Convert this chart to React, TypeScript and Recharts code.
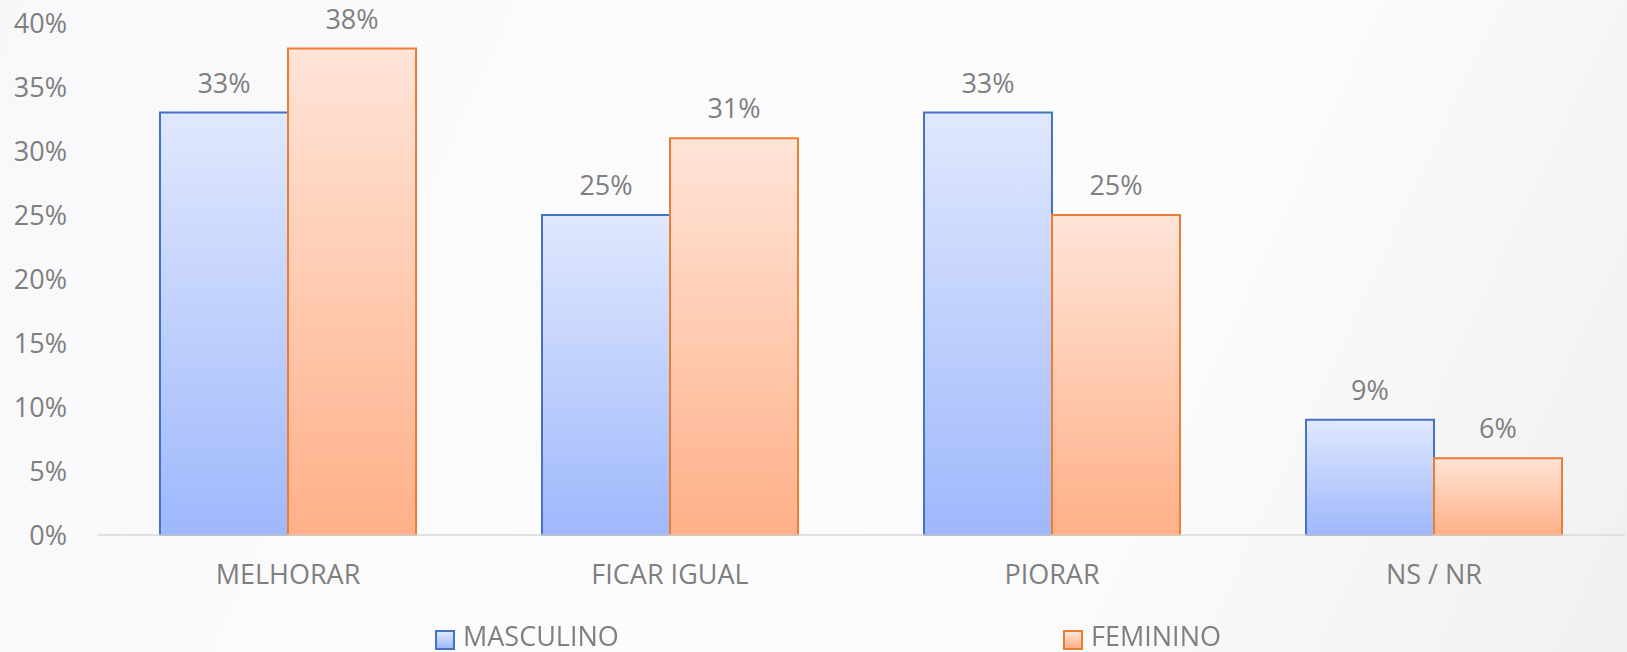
import React from 'react';
import { BarChart, Bar, XAxis, YAxis, Legend, LabelList } from 'recharts';

// Categories and values (percent)
const categories = ['MELHORAR', 'FICAR IGUAL', 'PIORAR', 'NS / NR'];
const masculino = [33, 25, 33, 9];
const feminino = [38, 31, 25, 6];
const yTicks = [0, 5, 10, 15, 20, 25, 30, 35, 40];

const data = categories.map((name, i) => ({
  name,
  MASCULINO: masculino[i],
  FEMININO: feminino[i],
}));

const FONT = '"Open Sans", "Noto Sans", sans-serif';
const GREY = '#7f7f7f';

const LegendItems = () => {
  const items = [
    { label: 'MASCULINO', left: 435, stroke: '#4472c4', from: '#e0e8fd', to: '#9fb8fc' },
    { label: 'FEMININO', left: 1063, stroke: '#ed7d31', from: '#ffe4d8', to: '#ffb088' },
  ];
  return (
    <div style={{ position: 'relative', width: 1627, height: 30 }}>
      {items.map((it) => (
        <div
          key={it.label}
          style={{
            position: 'absolute',
            left: it.left,
            top: 0,
            height: 27,
            lineHeight: '27px',
            fontFamily: FONT,
            fontSize: 27,
            color: GREY,
            whiteSpace: 'nowrap',
          }}
        >
          <span
            style={{
              position: 'absolute',
              left: 0,
              top: 8,
              width: 16,
              height: 16,
              border: `2px solid ${it.stroke}`,
              background: `linear-gradient(${it.from}, ${it.to})`,
            }}
          />
          <span style={{ position: 'absolute', left: 28, top: 0 }}>{it.label}</span>
        </div>
      ))}
    </div>
  );
};

const App = () => {
  return (
    <div
      style={{
        position: 'fixed',
        top: 0,
        left: 0,
        width: 1627,
        height: 652,
        background: 'linear-gradient(115deg, #f8f8fa 0%, #fcfcfd 45%, #fbfbfc 70%, #f0f0f2 100%)',
      }}
    >
      <BarChart
        width={1627}
        height={652}
        data={data}
        margin={{ top: 23, right: 2, left: 0, bottom: 27 }}
        barCategoryGap={63}
        barGap={0}
      >
        <defs>
          <linearGradient id="gradBlue" x1="0" y1="0" x2="0" y2="1">
            <stop offset="0%" stopColor="#e0e8fd" />
            <stop offset="100%" stopColor="#9fb8fc" />
          </linearGradient>
          <linearGradient id="gradOrange" x1="0" y1="0" x2="0" y2="1">
            <stop offset="0%" stopColor="#ffe4d8" />
            <stop offset="100%" stopColor="#ffb088" />
          </linearGradient>
        </defs>
        <XAxis
          dataKey="name"
          height={60}
          tickLine={false}
          tickSize={0}
          tickMargin={30}
          axisLine={{ stroke: '#d9d9d9', strokeWidth: 1.5 }}
          tick={{ fill: GREY, fontSize: 27, fontFamily: FONT }}
        />
        <YAxis
          width={97}
          domain={[0, 40]}
          ticks={yTicks}
          interval={0}
          tickFormatter={(v) => `${v}%`}
          axisLine={false}
          tickLine={false}
          tickSize={0}
          tickMargin={30}
          tick={{ fill: GREY, fontSize: 27, fontFamily: FONT }}
        />
        <Legend
          verticalAlign="bottom"
          content={() => <LegendItems />}
          wrapperStyle={{ top: 622, left: 0, bottom: 'auto', width: 1627 }}
        />
        <Bar
          dataKey="MASCULINO"
          fill="url(#gradBlue)"
          stroke="#4472c4"
          strokeWidth={2}
          isAnimationActive={false}
        >
          <LabelList
            dataKey="MASCULINO"
            position="top"
            offset={20}
            formatter={(v: any) => `${v}%`}
            style={{ fill: GREY, fontSize: 27, fontFamily: FONT }}
          />
        </Bar>
        <Bar
          dataKey="FEMININO"
          fill="url(#gradOrange)"
          stroke="#ed7d31"
          strokeWidth={2}
          isAnimationActive={false}
        >
          <LabelList
            dataKey="FEMININO"
            position="top"
            offset={20}
            formatter={(v: any) => `${v}%`}
            style={{ fill: GREY, fontSize: 27, fontFamily: FONT }}
          />
        </Bar>
      </BarChart>
    </div>
  );
};

export default App;
